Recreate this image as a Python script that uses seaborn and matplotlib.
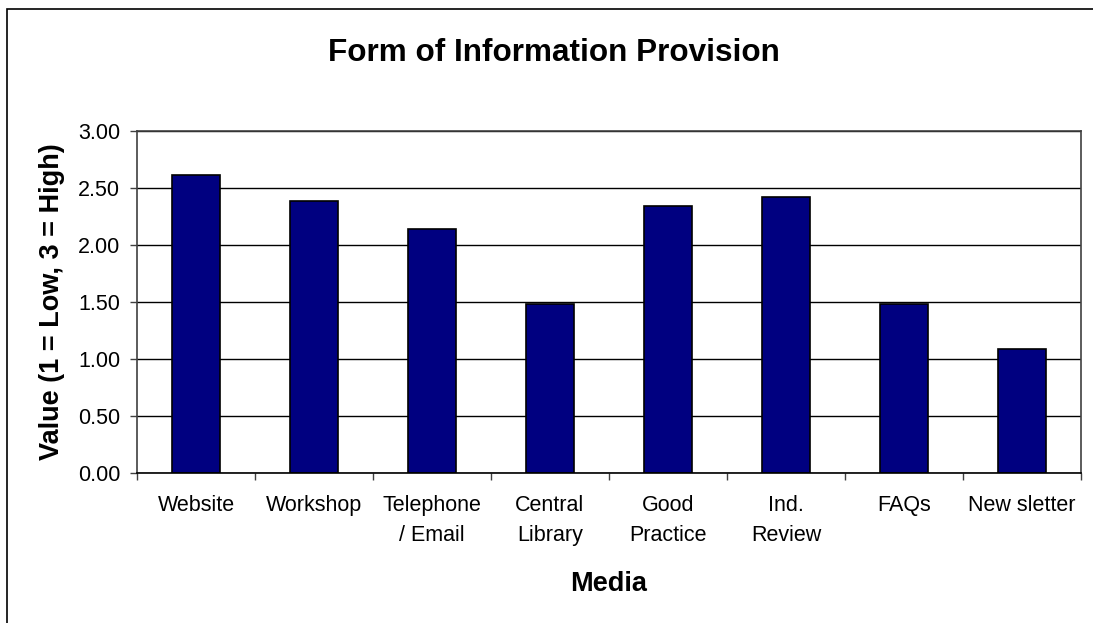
import numpy as np
import pandas as pd
import seaborn as sns
import matplotlib.pyplot as plt
from matplotlib.patches import Rectangle

media = ['Website', 'Workshop', 'Telephone\n/ Email', 'Central\nLibrary',
         'Good\nPractice', 'Ind.\nReview', 'FAQs', 'New sletter']
values = [2.61, 2.39, 2.14, 1.48, 2.34, 2.42, 1.48, 1.09]
yticks = [0.0, 0.5, 1.0, 1.5, 2.0, 2.5, 3.0]

sns.set_style('white')
plt.rcParams['font.family'] = ['Liberation Sans', 'DejaVu Sans']
plt.rcParams['text.color'] = 'black'
plt.rcParams['axes.labelcolor'] = 'black'
plt.rcParams['xtick.color'] = 'black'
plt.rcParams['ytick.color'] = 'black'

data = pd.DataFrame({'media': media, 'value': values})

W, H = 1093, 623
fig = plt.figure(figsize=(W / 100, H / 100), dpi=100)
ax = fig.add_axes([137 / W, 1 - 473 / H, (1081 - 137) / W, (473 - 131) / H])

# outer chart frame (cut off at the right and bottom edge)
fig.patches.append(Rectangle((7 / W, -0.1), 1.2, 1 - 9 / H + 0.1,
                             transform=fig.transFigure, fill=False,
                             edgecolor='black', linewidth=1.2))

ax.set_axisbelow(True)
ax.yaxis.grid(True, color='black', linewidth=1)
sns.barplot(data=data, x='media', y='value', color='#000080', saturation=1,
            width=0.41, edgecolor='black', linewidth=1.2, ax=ax)

ax.set_ylim(0, 3)
ax.set_xlim(-0.5, len(media) - 0.5)
ax.set_yticks(yticks)
ax.set_yticklabels([f'{v:.2f}' for v in yticks], fontsize=15.5)
ax.set_xticks(range(len(media)))
ax.set_xticklabels(media, fontsize=15.5, linespacing=1.55, va='top')
ax.set_xticks(np.arange(-0.5, len(media), 1), minor=True)
ax.tick_params(axis='x', which='major', length=0, pad=16)
ax.tick_params(axis='x', which='minor', length=5, width=1, color='#404040', direction='out', bottom=True)
ax.tick_params(axis='y', length=5, width=1, color='#404040', direction='out', left=True, pad=7)

for s in ax.spines.values():
    s.set_color('#404040')
    s.set_linewidth(1.2)
ax.spines['bottom'].set_color('black')

ax.set_xlabel('Media', fontsize=19.5, fontweight='bold', va='center')
ax.xaxis.set_label_coords(0.5, (473 - 584) / (473 - 131))
ax.set_ylabel('Value (1 = Low, 3 = High)', fontsize=19.5, fontweight='bold', va='center')
ax.yaxis.set_label_coords((52 - 137) / (1081 - 137), 0.5)
fig.text(554 / W, 1 - 53 / H, 'Form of Information Provision', fontsize=22.7,
         fontweight='bold', ha='center', va='center')

fig.savefig('out.png', dpi=100)
